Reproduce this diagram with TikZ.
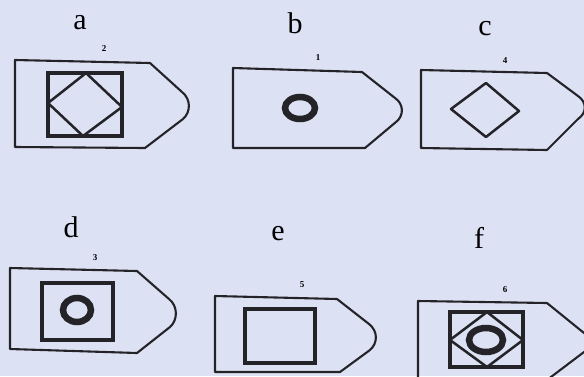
\documentclass[tikz,border=0pt]{standalone}
\usepackage{fontspec}
\setmainfont{Liberation Serif}
\definecolor{paper}{RGB}{221,225,244}
\definecolor{ink}{RGB}{35,35,40}
\tikzset{
  outline/.style={draw=ink, line width=2.1pt, line join=round},
  inner/.style={draw=ink, line width=3.2pt},
  thin/.style={draw=ink, line width=2.5pt, line join=round},
  ring/.style={draw=ink, line width=6.5pt},
  letter/.style={font=\fontsize{30}{30}\selectfont, text=black, anchor=base, inner sep=0pt},
  num/.style={font=\fontsize{9}{9}\selectfont\bfseries, text=black, inner sep=0pt}
}
\begin{document}
\begin{tikzpicture}[x=1pt,y=-1pt]
\useasboundingbox (0,0) rectangle (584,376);
\fill[paper] (0,0) rectangle (584,376);
\clip (0,0) rectangle (584,376);

% labels
\node[letter] (la) at (80,29) {a};
\node[letter] (lb) at (295,33) {b};
\node[letter] (lc) at (485,35) {c};
\node[letter] (ld) at (71,237) {d};
\node[letter] (le) at (278,240) {e};
\node[letter] (lf) at (479,248) {f};

\node[num] (n2) at (104,49) {2};
\node[num] (n1) at (318,58) {1};
\node[num] (n4) at (505,61) {4};
\node[num] (n3) at (95,258) {3};
\node[num] (n5) at (302,285) {5};
\node[num] (n6) at (505,290) {6};

% shape a
\draw[outline] (15,60) -- (150,63) -- (182,92) .. controls (191,99) and (191,112) .. (183,119) -- (145,148) -- (15,147) -- cycle;
\draw[inner] (48,73) rectangle (122,136);
\draw[thin] (86,73) -- (122,107) -- (83,136) -- (48,103) -- cycle;

% shape b
\draw[outline] (233,68) -- (362,72) -- (395,98) .. controls (404,104) and (404,116) .. (396,122) -- (365,148) -- (233,148) -- cycle;
\draw[ring] (300,108) ellipse [x radius=15, y radius=11];

% shape c
\draw[outline] (421,70) -- (547,73) -- (578,96) .. controls (587,102) and (587,113) .. (578,119) -- (547,150) -- (421,148) -- cycle;
\draw[thin] (486,83) -- (519,111) -- (486,137) -- (451,109) -- cycle;

% shape d
\draw[outline] (10,268) -- (137,271) -- (169,299) .. controls (178,306) and (178,320) .. (170,327) -- (137,353) -- (10,349) -- cycle;
\draw[inner] (42,283) rectangle (113,340);
\draw[ring] (77,310) ellipse [x radius=14, y radius=12];

% shape e
\draw[outline] (215,296) -- (337,299) -- (369,324) .. controls (378,331) and (378,343) .. (370,350) -- (340,372) -- (215,372) -- cycle;
\draw[inner] (245,309) rectangle (315,363);

% shape f
\draw[outline] (418,301) -- (547,303) -- (584,333) -- (600,345) -- (584,352) -- (547,380) -- (418,380) -- cycle;
\draw[inner] (450,312) rectangle (523,367);
\draw[thin] (487,312) -- (523,340) -- (487,367) -- (450,340) -- cycle;
\draw[ring] (486,340) ellipse [x radius=17, y radius=12];
\end{tikzpicture}
\end{document}
